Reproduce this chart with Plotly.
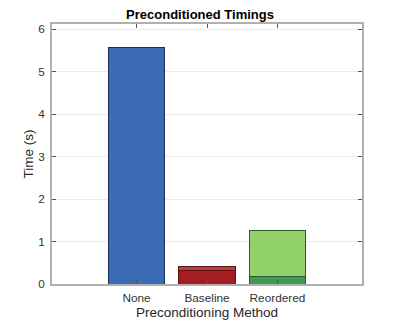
import plotly.graph_objects as go

categories = ["None", "Baseline", "Reordered"]
positions = [1, 2, 3]
base_values = [5.58, 0.325, 0.176]
extra_values = [None, 0.08, 1.074]
base_colors = ["#3b6bb5", "#a31d22", "#3d9a54"]
extra_colors = ["#3b6bb5", "#c23c46", "#92d06a"]
edge_colors = ["#1d3050", "#5a1414", "#2d5a2d"]
y_ticks = [0, 1, 2, 3, 4, 5, 6]

fig = go.Figure()
fig.add_trace(go.Bar(x=positions, y=base_values, width=0.8,
                     marker=dict(color=base_colors, line=dict(color=edge_colors, width=1)),
                     showlegend=False))
fig.add_trace(go.Bar(x=positions, y=extra_values, width=0.8,
                     marker=dict(color=extra_colors, line=dict(color=edge_colors, width=1)),
                     showlegend=False))

font_fam = "Liberation Sans, Arial, sans-serif"
# page body has an 8px default margin, so the figure is offset by 8px
fig.update_layout(
    barmode="stack",
    width=392, height=312,
    margin=dict(l=44, r=38, t=16, b=35.5, autoexpand=False),
    paper_bgcolor="white", plot_bgcolor="white",
    font=dict(family=font_fam, size=11.8, color="#333333"),
    title=dict(text="<b>Preconditioned Timings</b>", x=(200 - 8) / 392, xanchor="center",
               y=1 - 6 / 312, yanchor="middle",
               font=dict(family=font_fam, size=13, color="black")),
    xaxis=dict(range=[-0.2, 4.2], tickvals=positions, ticktext=categories,
               ticks="inside", ticklen=4, tickcolor="#555555", mirror="ticks",
               showline=True, linecolor="#b0b0b0", linewidth=1.5,
               showgrid=False, zeroline=False, automargin=False,
               ticklabelstandoff=2,
               title=dict(text="Preconditioning Method", standoff=0,
                          font=dict(size=13.5, color="#262626"))),
    yaxis=dict(range=[0, 6.125], tickvals=y_ticks,
               ticks="inside", ticklen=4, tickcolor="#555555", mirror="ticks",
               showline=True, linecolor="#b0b0b0", linewidth=1.5,
               showgrid=True, gridcolor="#ebebeb", gridwidth=1,
               zeroline=False, automargin=False, ticklabelstandoff=3,
               title=dict(text="Time (s)", standoff=2,
                          font=dict(size=13.5, color="#262626"))),
)

fig.write_html("out.html")
